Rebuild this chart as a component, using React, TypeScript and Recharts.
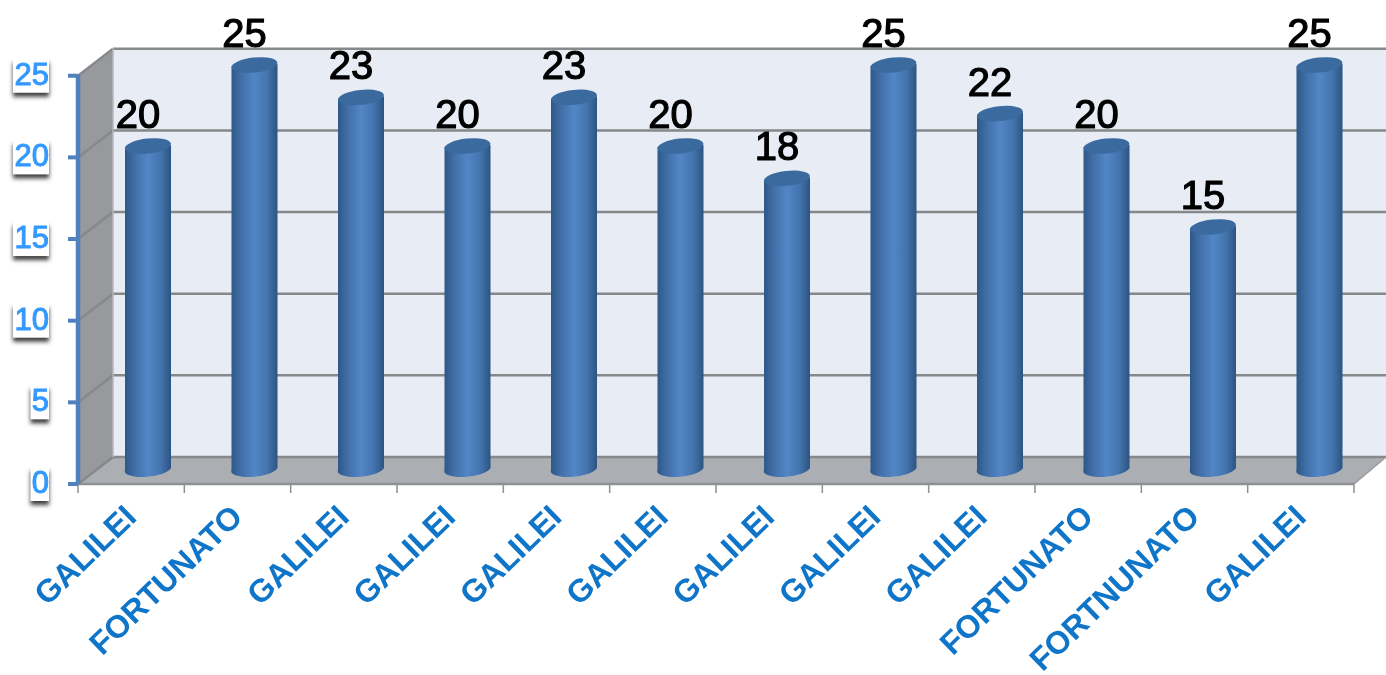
import React from 'react';
import { BarChart, Bar, XAxis, YAxis, LabelList } from 'recharts';

const SCHOOLS = ['GALILEI', 'FORTUNATO', 'GALILEI', 'GALILEI', 'GALILEI', 'GALILEI', 'GALILEI', 'GALILEI', 'GALILEI', 'FORTUNATO', 'FORTNUNATO', 'GALILEI'];
const VALUES = [20, 25, 23, 20, 23, 20, 18, 25, 22, 20, 15, 25];
const Y_TICKS = [0, 5, 10, 15, 20, 25];

const data = SCHOOLS.map((name, i) => ({ id: i, name, value: VALUES[i] }));

const W = 1386;
const H = 675;
const LEFT = 78;
const TOP = 48;
const BOTTOM = 484;
const RIGHT = 1386;
const FRONT_RIGHT = 1354;
const DX = 35;
const DY = 27;
const UNIT = 16.33;
const BAR_UNIT = 16.2;
const BAR_BASE = 470;
const BAND = (FRONT_RIGHT - LEFT) / SCHOOLS.length;
const FONT = '"Liberation Sans", Arial, sans-serif';

function Frame() {
  const wallBottom = BOTTOM - DY;
  const backX = LEFT + DX;
  return (
    <g>
      <polygon points={`${backX},${TOP} ${RIGHT},${TOP} ${RIGHT},${wallBottom} ${backX},${wallBottom}`} fill="#e8ecf5" />
      <polygon points={`${LEFT},${BOTTOM - 25 * UNIT} ${backX},${TOP} ${backX},${wallBottom} ${LEFT},${BOTTOM}`} fill="#98999c" />
      <polygon points={`${LEFT},${BOTTOM} ${backX},${wallBottom} ${RIGHT},${wallBottom} ${FRONT_RIGHT},${BOTTOM}`} fill="#abaeb3" />
      {Y_TICKS.map(t => {
        const y = BOTTOM - t * UNIT;
        return (
          <g key={t} stroke="#868889" strokeWidth={2.5}>
            <line x1={LEFT} y1={y} x2={backX} y2={y - DY} />
            <line x1={backX} y1={y - DY} x2={RIGHT} y2={y - DY} />
          </g>
        );
      })}
      <line x1={backX} y1={TOP} x2={backX} y2={wallBottom} stroke="#b5b7ba" strokeWidth={1.5} />
      <line x1={FRONT_RIGHT} y1={BOTTOM} x2={RIGHT} y2={wallBottom} stroke="#9a9c9e" strokeWidth={1.5} />
      <line x1={LEFT} y1={BOTTOM} x2={FRONT_RIGHT} y2={BOTTOM} stroke="#8e9091" strokeWidth={2.5} />
      {SCHOOLS.map((_, i) => (
        <line key={i} x1={LEFT + i * BAND} y1={BOTTOM} x2={LEFT + i * BAND} y2={BOTTOM + 9} stroke="#8e9091" strokeWidth={1.5} />
      ))}
      <line x1={FRONT_RIGHT} y1={BOTTOM} x2={FRONT_RIGHT} y2={BOTTOM + 9} stroke="#8e9091" strokeWidth={1.5} />
      <line x1={LEFT} y1={BOTTOM - 25 * UNIT - 1} x2={LEFT} y2={BOTTOM} stroke="#4f81bd" strokeWidth={4.5} />
    </g>
  );
}

function Cylinder(props: any) {
  const { x, y, width, height } = props;
  const rx = width / 2;
  const ry = 7.5;
  const cx = x + rx;
  const bottom = y + height;
  return (
    <g>
      <path
        d={`M${x},${y + 1} L${x},${bottom} A${rx},${ry} -6 0 0 ${x + width},${bottom - 2} L${x + width},${y - 1} Z`}
        fill="url(#cyl)"
      />
      <ellipse cx={cx} cy={y} rx={rx} ry={ry} transform={`rotate(-6 ${cx} ${y})`} fill="#3b6a9f" />
    </g>
  );
}

function YTick(props: any) {
  const { y, payload } = props;
  const label = String(payload.value);
  const boxW = label.length * 17.5 + 1;
  const right = LEFT - 29;
  return (
    <g>
      <rect x={right - boxW} y={y - 13} width={boxW} height={34} fill="#3c3d3f" filter="url(#soft)" />
      <rect x={right - boxW} y={y - 19} width={boxW} height={36} fill="#ffffff" />
      <text x={right} y={y + 9} textAnchor="end" fontFamily={FONT} fontSize={31} fill="#3399ff" stroke="#3399ff" strokeWidth={1}>
        {label}
      </text>
      <line x1={LEFT - 10} y1={y} x2={LEFT} y2={y} stroke="#4f81bd" strokeWidth={4} />
    </g>
  );
}

function XTick(props: any) {
  const { x, payload } = props;
  const ax = x + 7;
  const ay = BOTTOM + 35;
  return (
    <text
      x={ax}
      y={ay}
      textAnchor="end"
      transform={`rotate(-44 ${ax} ${ay})`}
      fontFamily={FONT}
      fontWeight="bold"
      fontSize={32}
      fill="#0f75c9"
    >
      {SCHOOLS[payload.value]}
    </text>
  );
}

function ValueLabel(props: any) {
  const { x, y, width, value } = props;
  return (
    <text x={x + width / 2 - 10} y={y - 18} textAnchor="middle" fontFamily={FONT} fontSize={40} fill="#000" stroke="#000" strokeWidth={1.2}>
      {value}
    </text>
  );
}

export default function App() {
  return (
    <div style={{ position: 'absolute', left: 0, top: 0, width: W, height: H, overflow: 'hidden', filter: 'blur(0.6px)' }}>
      <BarChart
        width={W}
        height={H}
        data={data}
        barCategoryGap={0}
        margin={{ top: TOP, right: W - RIGHT, bottom: 0, left: 0 }}
      >
        <defs>
          <linearGradient id="cyl" x1="0" x2="1" y1="0" y2="0">
            <stop offset="0%" stopColor="#2d5788" />
            <stop offset="22%" stopColor="#426fa8" />
            <stop offset="50%" stopColor="#5286c6" />
            <stop offset="78%" stopColor="#4474ad" />
            <stop offset="100%" stopColor="#2c5482" />
          </linearGradient>
          <filter id="soft" x="-30%" y="-30%" width="160%" height="160%">
            <feGaussianBlur stdDeviation="2" />
          </filter>
        </defs>
        <Frame />
        <XAxis
          dataKey="id"
          xAxisId="front"
          height={H - BOTTOM}
          padding={{ left: 0, right: RIGHT - FRONT_RIGHT }}
          interval={0}
          axisLine={false}
          tickLine={false}
          tick={<XTick />}
        />
        <XAxis dataKey="id" xAxisId="depth" hide padding={{ left: 17, right: 13 }} />
        <YAxis
          yAxisId="front"
          width={LEFT}
          domain={[0, (BOTTOM - TOP) / UNIT]}
          ticks={Y_TICKS}
          axisLine={false}
          tickLine={false}
          interval={0}
          tick={<YTick />}
        />
        <YAxis yAxisId="depth" hide domain={[-(BOTTOM - BAR_BASE) / BAR_UNIT, (BAR_BASE - TOP) / BAR_UNIT]} />
        <Bar dataKey="value" xAxisId="front" yAxisId="front" shape={() => null} isAnimationActive={false} />
        <Bar dataKey="value" xAxisId="depth" yAxisId="depth" barSize={46} shape={<Cylinder />} isAnimationActive={false}>
          <LabelList dataKey="value" content={<ValueLabel />} />
        </Bar>
      </BarChart>
    </div>
  );
}
